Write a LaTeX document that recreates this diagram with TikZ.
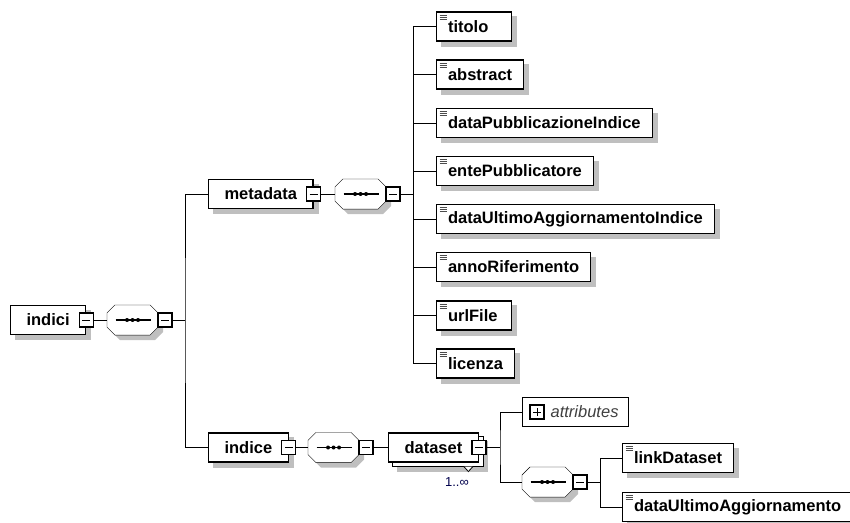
\documentclass[tikz,border=0pt]{standalone}
\usepackage{fontspec}
\setmainfont{Liberation Sans}
\pgfdeclarelayer{background}
\pgfsetlayers{background,main}
\newcommand{\octogone}[3]{\path[#1] ([xshift=#3,yshift=-#3,xshift=8pt]#2.north west) -- ([xshift=#3,yshift=-#3,xshift=-8pt]#2.north east)
  -- ([xshift=#3,yshift=-#3,yshift=-8pt]#2.north east) -- ([xshift=#3,yshift=-#3,yshift=8pt]#2.south east)
  -- ([xshift=#3,yshift=-#3,xshift=-8pt]#2.south east) -- ([xshift=#3,yshift=-#3,xshift=8pt]#2.south west)
  -- ([xshift=#3,yshift=-#3,yshift=8pt]#2.south west) -- ([xshift=#3,yshift=-#3,yshift=-8pt]#2.north west) -- cycle;}

\begin{document}
\begin{tikzpicture}[x=1pt,y=-1pt,line width=1.1pt]
\tikzset{
  ombre/.style={fill=black!25, draw=none},
  boite/.style={draw, fill=white, anchor=west, inner ysep=0pt, minimum height=29pt,
    font=\bfseries\fontsize{16.5}{18}\selectfont},
  parent/.style={boite, inner xsep=16pt},
  feuille/.style={boite, inner xsep=11.5pt, minimum width=75pt,
    path picture={\foreach \d in {3,5,7}
      \draw[black!70, line width=0.7pt] ([xshift=3pt, yshift=-\d pt]path picture bounding box.north west) -- ++(7pt,0pt);}},
  sequence/.style={anchor=west, minimum width=50pt, minimum height=29pt, inner sep=0pt,
    path picture={\draw[black] ([xshift=-17pt]path picture bounding box.center) -- ([xshift=18pt]path picture bounding box.center);
      \foreach \d in {-5.5,0,5.5}
        \fill[black] ([xshift=\d pt]path picture bounding box.center) circle (2pt);}},
  moins/.style={draw, fill=white, line width=1.3pt, minimum size=14pt, inner sep=0pt,
    path picture={\draw[black, line width=0.8pt] ([xshift=-4pt]path picture bounding box.center) -- ([xshift=4pt]path picture bounding box.center);}},
  plus/.style={moins, path picture={\draw[black, line width=0.8pt] ([xshift=-4pt]path picture bounding box.center) -- ([xshift=4pt]path picture bounding box.center);
      \draw[black, line width=0.8pt] ([yshift=-4pt]path picture bounding box.center) -- ([yshift=4pt]path picture bounding box.center);}}
}
\useasboundingbox (0,0) rectangle (850,522);
\clip (0,0) rectangle (850,522);

% racine
\node[parent] (indici) at (10,320) {indici};
\node[moins] (indiciM) at (indici.east) {};
\node[sequence] (seqA) at (107,320) {};
\node[moins] (seqAM) at ([xshift=7pt]seqA.east) {};
\coordinate (brA) at (185,320);

% metadata
\node[parent] (metadata) at (208,194) {metadata};
\node[moins] (metadataM) at (metadata.east) {};
\node[sequence] (seqB) at (335,194) {};
\node[moins] (seqBM) at ([xshift=7pt]seqB.east) {};
\coordinate (brB) at (413,194);

\node[feuille, text width=52pt, align=left] (titolo) at (436,26.5) {titolo};
\node[feuille] (abstract) at (436,74.5) {abstract};
\node[feuille] (dataPub) at (436,123) {dataPubblicazioneIndice};
\node[feuille] (ente) at (436,171) {entePubblicatore};
\node[feuille] (dataUltIdx) at (436,219) {dataUltimoAggiornamentoIndice};
\node[feuille] (anno) at (436,267) {annoRiferimento};
\node[feuille, text width=52pt, align=left] (url) at (436,315.5) {urlFile};
\node[feuille] (licenza) at (436,363.5) {licenza};

% indice
\node[parent] (indice) at (208,447.5) {indice};
\node[moins] (indiceM) at (indice.east) {};
\node[sequence] (seqC) at (308,447.5) {};
\node[moins] (seqCM) at ([xshift=7pt]seqC.east) {};
\node[parent] (dataset) at (388,447.5) {dataset};
\node[moins] (datasetM) at (dataset.east) {};
\draw[fill=white, line width=0.8pt] ([xshift=-15pt,yshift=-4pt]dataset.south east) -- ++(4.5pt,-5pt) -- ++(4.5pt,5pt);
\node[text=blue!30!black, font=\fontsize{13}{15}\selectfont] (mult) at (457,482) {1..∞};
\coordinate (brC) at (500,447.5);

\node[boite, line width=1pt, inner xsep=10pt, text width=86pt, align=right,
  font=\itshape\fontsize{16.5}{18}\selectfont, text=black!75] (attr) at (522,412) {attributes};
\node[plus] (attrP) at ([xshift=15pt]attr.west) {};
\node[sequence] (seqD) at (522,482) {};
\node[moins] (seqDM) at ([xshift=7pt]seqD.east) {};
\coordinate (brD) at (600,482);
\node[feuille] (link) at (622,458) {linkDataset};
\node[feuille] (dataUlt) at (622,507) {dataUltimoAggiornamento};

% ombres, second dataset, octogones
\begin{pgfonlayer}{background}
\foreach \n in {indici,metadata,titolo,abstract,dataPub,ente,dataUltIdx,anno,url,licenza,indice,link,dataUlt}
  \fill[ombre] ([xshift=5pt,yshift=-5pt]\n.north west) rectangle ([xshift=5pt,yshift=-5pt]\n.south east);
\fill[ombre] ([xshift=9pt,yshift=-9pt]dataset.north west) rectangle ([xshift=9pt,yshift=-9pt]dataset.south east);
\draw[fill=white] ([xshift=4pt,yshift=-4pt]dataset.north west) rectangle ([xshift=4pt,yshift=-4pt]dataset.south east);
\foreach \n in {seqA,seqB,seqC,seqD} {
  \octogone{ombre}{\n}{5pt}
  \octogone{draw,fill=white}{\n}{0pt}
}
\end{pgfonlayer}

% liens
\draw (indiciM) -- (seqA);
\draw (seqAM) -- (brA);
\draw (metadata) -| (brA) |- (indice);
\draw (metadataM) -- (seqB);
\draw (seqBM) -- (brB);
\draw (brB) |- (titolo);
\draw (brB) |- (abstract);
\draw (brB) |- (dataPub);
\draw (brB) |- (ente);
\draw (brB) |- (dataUltIdx);
\draw (brB) |- (anno);
\draw (brB) |- (url);
\draw (brB) |- (licenza);
\draw (indiceM) -- (seqC);
\draw (seqCM) -- (dataset);
\draw (datasetM) -- (brC);
\draw (attr) -| (brC) |- (seqD);
\draw (seqDM) -- (brD);
\draw (link) -| (brD) |- (dataUlt);
\end{tikzpicture}
\end{document}
